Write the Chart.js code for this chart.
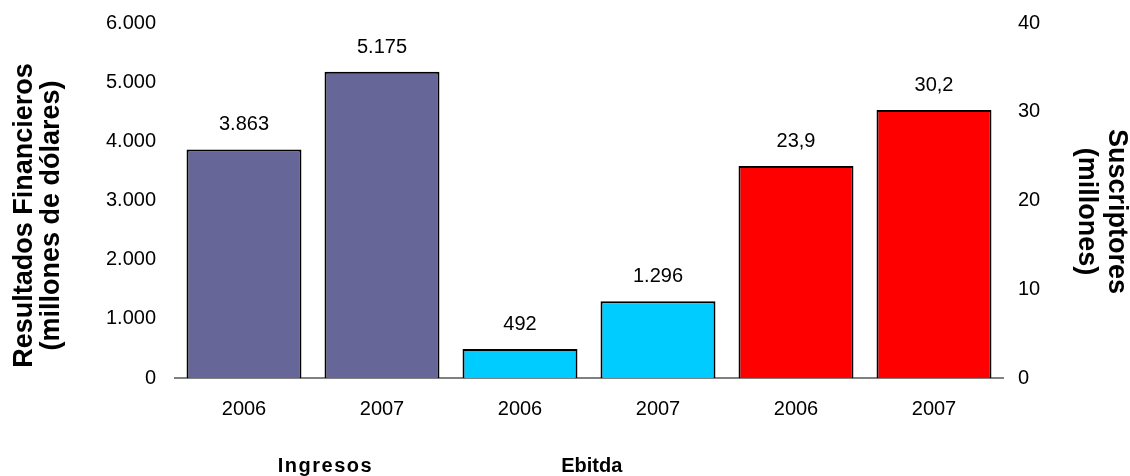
<!DOCTYPE html>
<html>
<head>
<meta charset="utf-8">
<script src="https://cdn.jsdelivr.net/npm/chart.js@4.4.1/dist/chart.umd.min.js"></script>
<style>
  body { margin: 0; background: #fff; }
</style>
</head>
<body>
<canvas id="chart" width="1130" height="476"></canvas>
<script>
const years = ['2006', '2007', '2006', '2007', '2006', '2007'];
const financial = [3863, 5175, 492, 1296, null, null];
const subscribers = [null, null, null, null, 23.9, 30.2];
const groupNames = ['Ingresos', 'Ebitda'];
const leftTitle = ['Resultados Financieros', '(millones de dólares)'];
const rightTitle = ['Suscriptores', '(millones)'];

const barColors = ['#666699', '#666699', '#00CCFF', '#00CCFF', '#FF0000', '#FF0000'];
const FONT = '"Liberation Sans", Arial, sans-serif';

Chart.defaults.font.family = FONT;
Chart.defaults.color = '#000';

function fmt(v) {
  return v.toLocaleString('de-DE');
}

// numbers above each bar
const valueLabels = {
  id: 'valueLabels',
  afterDatasetsDraw(chart) {
    const ctx = chart.ctx;
    ctx.save();
    ctx.font = '20px ' + FONT;
    ctx.fillStyle = '#000';
    ctx.textAlign = 'center';
    ctx.textBaseline = 'alphabetic';
    chart.data.datasets.forEach((ds, i) => {
      chart.getDatasetMeta(i).data.forEach((bar, j) => {
        const v = ds.data[j];
        if (v == null) return;
        ctx.fillText(fmt(v), bar.x, bar.y - 19);
      });
    });
    ctx.restore();
  }
};

// group names under the years, and the two rotated axis titles
const extraText = {
  id: 'extraText',
  afterDraw(chart) {
    const x = chart.scales.x;
    const area = chart.chartArea;
    const ctx = chart.ctx;
    const at = [0.59, 2.52];
    ctx.save();
    ctx.fillStyle = '#000';
    ctx.textAlign = 'center';
    ctx.textBaseline = 'middle';

    ctx.font = 'bold 20px ' + FONT;
    groupNames.forEach((name, i) => {
      ctx.letterSpacing = i === 0 ? '1.5px' : '0px';
      ctx.fillText(name, x.getPixelForValue(at[i]), 466);
    });
    ctx.letterSpacing = '0px';

    ctx.font = 'bold 27px ' + FONT;
    const midY = (area.top + area.bottom) / 2 + 15;
    leftTitle.forEach((line, i) => {
      ctx.save();
      ctx.translate(25 + i * 27, midY);
      ctx.rotate(-Math.PI / 2);
      ctx.fillText(line, 0, 0);
      ctx.restore();
    });
    rightTitle.forEach((line, i) => {
      ctx.save();
      ctx.translate(1116 - i * 30, midY - 4);
      ctx.rotate(Math.PI / 2);
      ctx.fillText(line, 0, 0);
      ctx.restore();
    });
    ctx.restore();
  }
};

new Chart(document.getElementById('chart'), {
  type: 'bar',
  data: {
    labels: years,
    datasets: [
      {
        data: financial,
        yAxisID: 'y',
        backgroundColor: barColors,
        borderColor: '#000',
        borderWidth: 2,
        grouped: false,
        barPercentage: 0.833,
        categoryPercentage: 1
      },
      {
        data: subscribers,
        yAxisID: 'y1',
        backgroundColor: barColors,
        borderColor: '#000',
        borderWidth: 2,
        grouped: false,
        barPercentage: 0.833,
        categoryPercentage: 1
      }
    ]
  },
  options: {
    responsive: false,
    animation: false,
    layout: { padding: { top: 3 } },
    plugins: {
      legend: { display: false },
      tooltip: { enabled: false }
    },
    scales: {
      x: {
        grid: { display: false },
        border: { color: '#808080', width: 2 },
        ticks: { font: { size: 20 }, padding: 11, color: '#000' },
        afterFit: s => { s.height = 98; }
      },
      y: {
        position: 'left',
        min: 0,
        max: 6000,
        ticks: { stepSize: 1000, font: { size: 20 }, padding: 11, color: '#000', callback: v => fmt(v) },
        grid: { display: false },
        border: { display: false },
        afterFit: s => { s.width = 175; }
      },
      y1: {
        position: 'right',
        min: 0,
        max: 40,
        ticks: { stepSize: 10, font: { size: 20 }, padding: 7, color: '#000' },
        grid: { display: false },
        border: { display: false },
        afterFit: s => { s.width = 127; }
      }
    }
  },
  plugins: [valueLabels, extraText]
});
</script>
</body>
</html>
